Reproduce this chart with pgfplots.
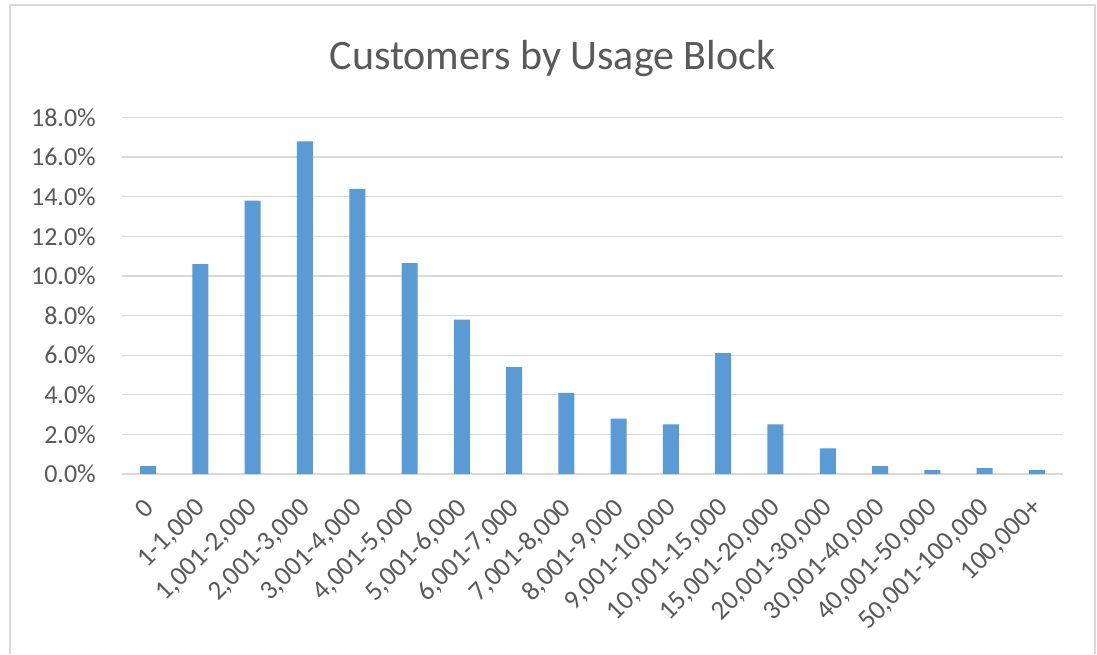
\documentclass[border=0pt]{standalone}
\usepackage{pgfplots}
\pgfplotsset{compat=1.18}
\usepackage{fontspec}
\setmainfont{Carlito}
\definecolor{barblue}{RGB}{91,155,213}
\definecolor{gridgray}{RGB}{217,217,217}
\definecolor{txtgray}{RGB}{89,89,89}
\begin{document}
\begin{tikzpicture}[x=1pt,y=1pt]
\useasboundingbox (0,0) rectangle (1097,654);
\fill[white] (0,0) rectangle (1097,654);
\draw[gridgray, line width=2pt] (10,0) -- (10,649) -- (1095,649) -- (1095,0);
\node[anchor=base, text=txtgray, font=\fontsize{42}{48}\selectfont] at (552.5,584) {Customers by Usage Block};
\begin{axis}[
  at={(122pt,180pt)}, anchor=south west,
  width=941pt, height=356.5pt, scale only axis,
  ybar, bar width=16pt,
  xmin=-0.5, xmax=17.5, ymin=0, ymax=18,
  xtick=data,
  xticklabels={0,{1-1,000},{1,001-2,000},{2,001-3,000},{3,001-4,000},{4,001-5,000},{5,001-6,000},{6,001-7,000},{7,001-8,000},{8,001-9,000},{9,001-10,000},{10,001-15,000},{15,001-20,000},{20,001-30,000},{30,001-40,000},{40,001-50,000},{50,001-100,000},{100,000+}},
  ytick={0,2,...,18},
  yticklabel={\pgfmathprintnumber[fixed,fixed zerofill,precision=1]{\tick}\%},
  /pgf/number format/assume math mode=true,
  axis x line=bottom, axis y line=left,
  x axis line style={draw=gridgray, line width=1.3pt, -},
  y axis line style={draw=none},
  major tick length=0pt,
  ymajorgrids, grid style={gridgray, line width=1.3pt},
  tick label style={text=txtgray, font=\fontsize{26}{30}\selectfont},
  yticklabel style={anchor=east, inner sep=0pt, xshift=-26pt},
  xticklabel style={font=\fontsize{27}{30}\selectfont, inner sep=0pt, xshift=1pt, yshift=-30pt, rotate=45, anchor=east},
]
\addplot[fill=barblue, draw=none] coordinates {
(0,0.4) (1,10.6) (2,13.8) (3,16.8) (4,14.4) (5,10.65) (6,7.8) (7,5.4) (8,4.1) (9,2.8) (10,2.5) (11,6.1) (12,2.5) (13,1.3) (14,0.4) (15,0.2) (16,0.3) (17,0.2)
};
\end{axis}
\end{tikzpicture}
\end{document}
